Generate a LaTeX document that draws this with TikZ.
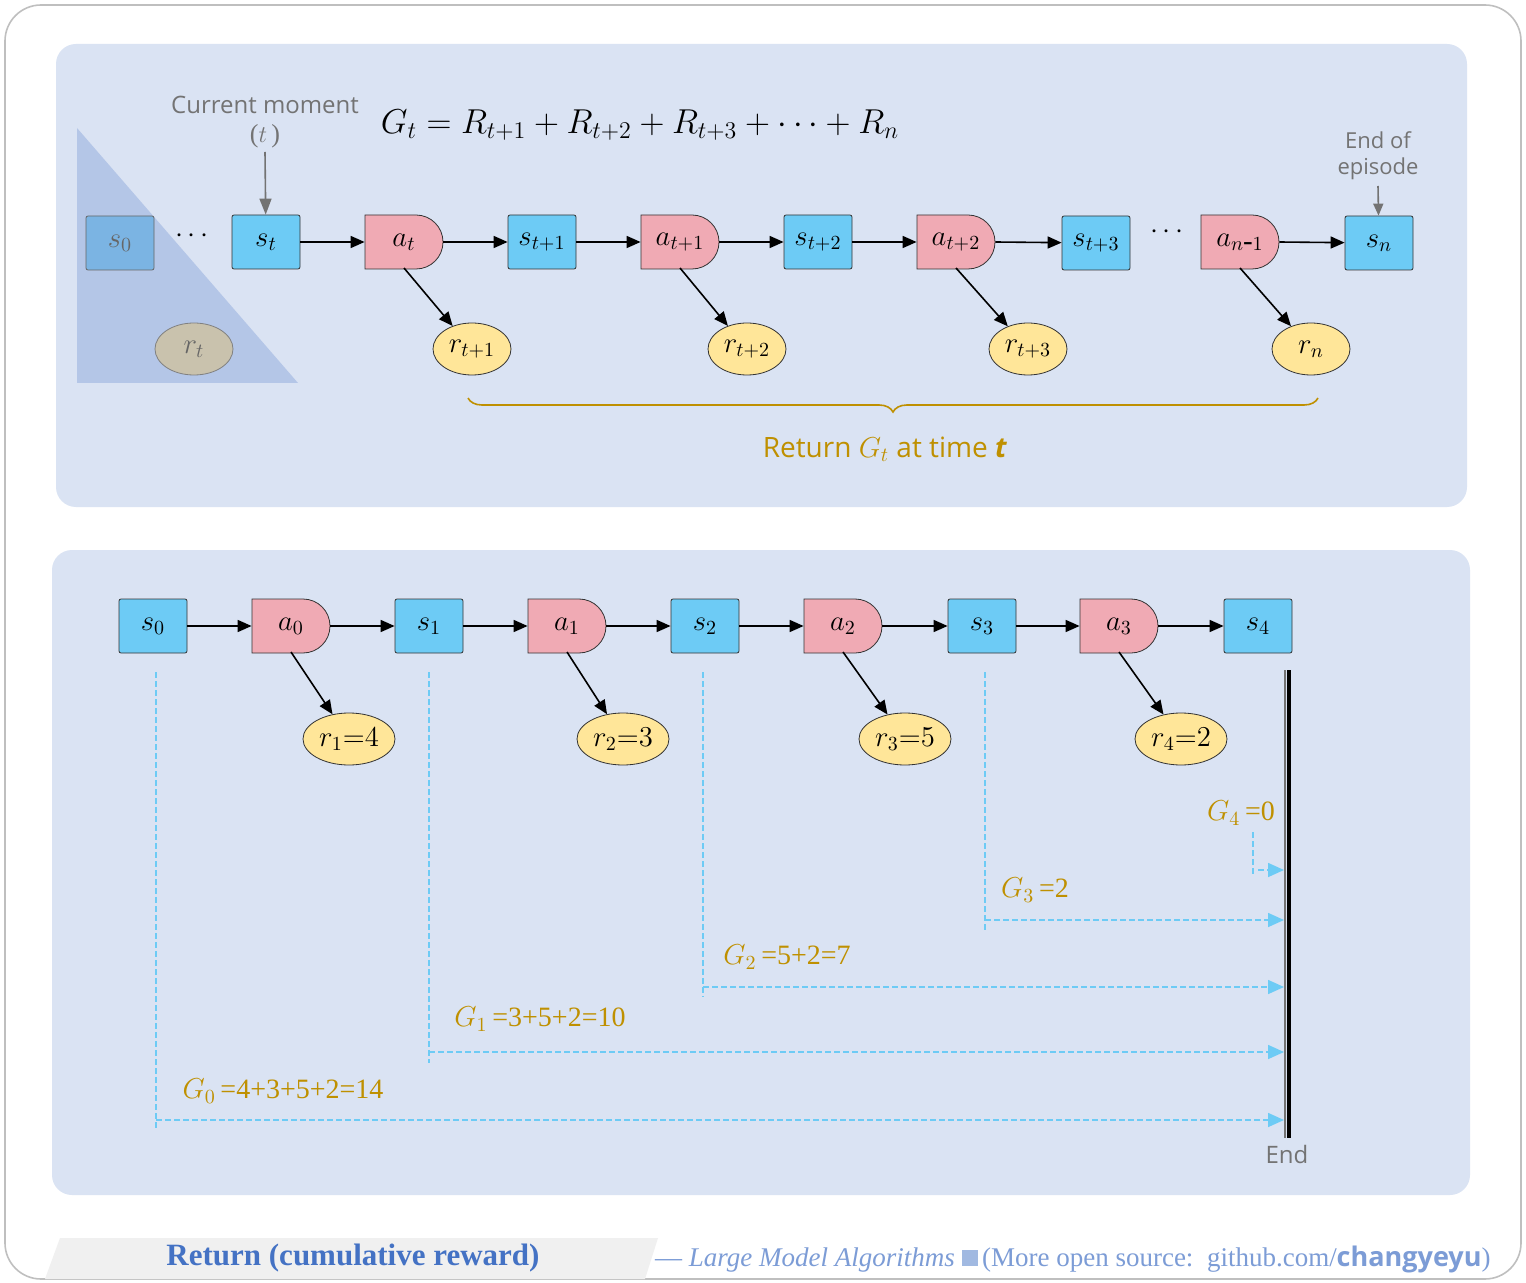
\documentclass[tikz,border=0pt]{standalone}
\usepackage{fontspec}
\setmainfont{Liberation Serif}
\newfontfamily\sans{Open Sans}
\usetikzlibrary{decorations.pathreplacing,arrows.meta,shapes.geometric}
\definecolor{panel}{HTML}{DAE3F3}
\definecolor{sblue}{HTML}{6DCBF5}
\definecolor{apink}{HTML}{F0AAB4}
\definecolor{ryel}{HTML}{FFE699}
\definecolor{gold}{HTML}{BF9000}
\definecolor{dcol}{HTML}{6DCBF5}
\definecolor{tblue}{HTML}{4472C4}
\definecolor{tri}{HTML}{B4C6E7}
\definecolor{szero}{HTML}{7BB4E3}
\tikzset{
 st/.style={draw=black!80,fill=sblue,rounded corners=1pt,minimum width=34pt,minimum height=27pt,inner sep=0pt,font=\fontsize{14.5}{14}\selectfont},
 rw/.style={draw=black!80,fill=ryel,ellipse,minimum width=39pt,minimum height=26pt,inner sep=0pt,font=\fontsize{14.5}{14}\selectfont},
 rw2/.style={rw,minimum width=46pt},
 an/.style={minimum width=39pt,minimum height=27pt,inner sep=0pt,font=\fontsize{14.5}{14}\selectfont},
 ar/.style={-{Triangle[length=7pt,width=6pt]},thick},
 da/.style={dcol,dash pattern=on 3pt off 1.5pt,thick},
 dar/.style={da,-{Triangle[length=8pt,width=7pt]}},
 gl/.style={gold,font=\fontsize{14}{14}\selectfont,anchor=center},
}
\newcommand\actshape[3]{% name, x, y
 \fill[apink,draw=black!80] (#2-39,#3-27) -- (#2+12,#3-27) arc(-90:90:27) -- (#2-39,#3+27) -- cycle;}
\begin{document}
\begin{tikzpicture}[x=0.5pt,y=-0.5pt]
\useasboundingbox (0,0) rectangle (1526,1283);
\draw[black!25,thick,rounded corners=18pt,fill=white] (5,5) rectangle (1521,1279);
\fill[panel,rounded corners=10pt] (56,44) rectangle (1467,507);
\fill[panel,rounded corners=10pt] (52,550) rectangle (1470,1195);
% ---------- top panel
\fill[tri] (77,128) -- (77,383) -- (298,383) -- cycle;
\node[st,fill=szero,draw=black!60] (s0) at (120,243) {\color{black!60}$s_0$};
\node[rw,fill=ryel!40!gray!70,draw=black!50] (rt) at (194,349) {\color{black!60}$r_t$};
\node (dd1) at (192,236) {\fontsize{14}{14}\selectfont$\cdots$};
\node[st] (st) at (266,242) {$s_t$};
\actshape{}{404}{242}\node[an] (at) at (404,242) {$a_t$};
\node[st] (st1) at (542,242) {$s_{t+1}$};
\actshape{}{680}{242}\node[an] (at1) at (680,242) {$a_{t+1}$};
\node[st] (st2) at (818,242) {$s_{t+2}$};
\actshape{}{956}{242}\node[an] (at2) at (956,242) {$a_{t+2}$};
\node[st] (st3) at (1096,243) {$s_{t+3}$};
\node (dd2) at (1167,232) {\fontsize{14}{14}\selectfont$\cdots$};
\actshape{}{1240}{242}\node[an] (an1) at (1240,242) {$a_{n\mbox{-}1}$};
\node[st] (sn) at (1379,243) {$s_n$};
\node[rw] (r1) at (472,349) {$r_{t+1}$};
\node[rw] (r2) at (747,349) {$r_{t+2}$};
\node[rw] (r3) at (1028,349) {$r_{t+3}$};
\node[rw] (rn) at (1311,349) {$r_n$};
\draw[ar] (st) -- (at.west);
\draw[ar] (at.east) -- (st1);
\draw[ar] (st1) -- (at1.west);
\draw[ar] (at1.east) -- (st2);
\draw[ar] (st2) -- (at2.west);
\draw[ar] (at2.east) -- (st3);
\draw[ar] (an1.east) -- (sn);
\draw[ar] (404,268) -- (r1);
\draw[ar] (680,268) -- (r2);
\draw[ar] (956,268) -- (r3);
\draw[ar] (1240,268) -- (rn);
\node[black!55,font=\sans\fontsize{12}{12}\selectfont] (cm) at (265,105) {Current moment};
\node[black!55,font=\fontsize{13}{13}\selectfont] (cmt) at (265,136) {($t$\,)};
\draw[black!55,thick,-{Triangle[length=8pt,width=6pt]}] (265,152) -- (st);
\node[black!55,font=\sans\fontsize{11}{13}\selectfont,align=center] (ep) at (1378,156) {End of\\episode};
\draw[black!55,thick,-{Triangle[length=6pt,width=5pt]}] (1378,186) -- (sn);
\node (G) at (640,125) {\fontsize{18}{18}\selectfont$G_t=R_{t+1}+R_{t+2}+R_{t+3}+\cdots+R_n$};
\draw[gold,thick,decorate,decoration={brace,mirror,amplitude=7pt}] (468,398) -- (1318,398);
\node[gold,font=\sans\fontsize{14}{14}\selectfont] (ret) at (885,449) {Return $G_t$ at time \textbf{\textit{t}}};
% ---------- bottom panel
\node[st] (b0) at (153,626) {$s_0$};
\actshape{}{291}{626}\node[an] (c0) at (291,626) {$a_0$};
\node[st] (b1) at (429,626) {$s_1$};
\actshape{}{567}{626}\node[an] (c1) at (567,626) {$a_1$};
\node[st] (b2) at (705,626) {$s_2$};
\actshape{}{843}{626}\node[an] (c2) at (843,626) {$a_2$};
\node[st] (b3) at (982,626) {$s_3$};
\actshape{}{1119}{626}\node[an] (c3) at (1119,626) {$a_3$};
\node[st] (b4) at (1258,626) {$s_4$};
\node[rw2] (q1) at (349,739) {$r_1{=}4$};
\node[rw2] (q2) at (623,739) {$r_2{=}3$};
\node[rw2] (q3) at (905,739) {$r_3{=}5$};
\node[rw2] (q4) at (1181,739) {$r_4{=}2$};
\draw[ar] (b0) -- (c0.west); \draw[ar] (c0.east) -- (b1);
\draw[ar] (b1) -- (c1.west); \draw[ar] (c1.east) -- (b2);
\draw[ar] (b2) -- (c2.west); \draw[ar] (c2.east) -- (b3);
\draw[ar] (b3) -- (c3.west); \draw[ar] (c3.east) -- (b4);
\draw[ar] (291,652) -- (q1); \draw[ar] (567,652) -- (q2);
\draw[ar] (843,652) -- (q3); \draw[ar] (1119,652) -- (q4);
\coordinate (e0) at (1284,1120); \coordinate (e1) at (1284,1052);
\coordinate (e2) at (1284,987); \coordinate (e3) at (1284,920); \coordinate (e4) at (1284,870);
\draw[da] (156,672) -- (156,1130); \draw[dar] (156,1120) -- (e0);
\draw[da] (429,672) -- (429,1063); \draw[dar] (429,1052) -- (e1);
\draw[da] (703,672) -- (703,997); \draw[dar] (703,987) -- (e2);
\draw[da] (985,672) -- (985,930); \draw[dar] (985,920) -- (e3);
\draw[da] (1253,832) -- (1253,877); \draw[dar] (1258,870) -- (e4);
\draw[black!55,thick] (1285,670) -- (1285,1138);
\draw[black,line width=2pt] (1289,670) -- (1289,1138);
\node[black!55,font=\sans\fontsize{12}{12}\selectfont] (end) at (1287,1154) {End};
\node[gl] (g4) at (1241,813) {$G_4$\,=0};
\node[gl] (g3) at (1035,890) {$G_3$\,=2};
\node[gl] (g2) at (787,957) {$G_2$\,=5+2=7};
\node[gl] (g1) at (540,1019) {$G_1$\,=3+5+2=10};
\node[gl] (g0) at (283,1091) {$G_0$\,=4+3+5+2=14};
% ---------- footer
\fill[black!6] (60,1238) -- (658,1238) -- (645,1279) -- (45,1279) -- cycle;
\node[tblue,font=\bfseries\fontsize{15.5}{15}\selectfont] (title) at (353,1258) {Return (cumulative reward)};
\node[anchor=west,font=\fontsize{13.5}{12}\selectfont,text=tblue!70!white] (foot) at (648,1259) {--- \textit{Large Model Algorithms} \textcolor{tblue!50}{\rule{8pt}{8pt}}\,(More open source:\ \ github.com/\textbf{\sans changyeyu})};
\end{tikzpicture}
\end{document}
